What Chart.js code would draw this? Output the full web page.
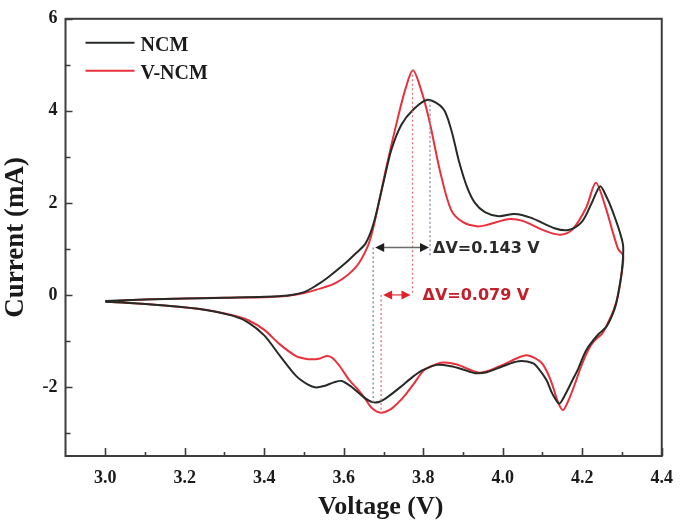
<!DOCTYPE html>
<html>
<head>
<meta charset="utf-8">
<script src="https://cdn.jsdelivr.net/npm/chart.js@4.4.1/dist/chart.umd.min.js"></script>
<style>
  html, body { margin: 0; padding: 0; background: #ffffff; }
  #wrap { width: 685px; height: 525px; }
</style>
</head>
<body>
<div id="wrap"><canvas id="c" width="685" height="525"></canvas></div>
<script>
// ---------- data ----------
const voltageTickLabels = [3.0, 3.2, 3.4, 3.6, 3.8, 4.0, 4.2, 4.4];
const currentTickLabels = [-2, 0, 2, 4, 6];
const seriesNames = ["NCM", "V-NCM"];
const axisTitles = ["Voltage (V)", "Current (mA)"];

const ncmVoltage = [
  3.00, 3.10, 3.20, 3.30, 3.40, 3.46, 3.50, 3.53, 3.56, 3.60, 3.63, 3.655, 3.675, 3.70, 3.72, 3.745,
  3.774, 3.811, 3.85, 3.87, 3.89, 3.91, 3.93, 3.955, 3.99, 4.03, 4.07, 4.13, 4.165, 4.20, 4.225, 4.245,
  4.26, 4.275, 4.295, 4.303, 4.300, 4.292,
  4.285, 4.275, 4.26, 4.24, 4.21, 4.19, 4.175, 4.155, 4.142, 4.125, 4.11, 4.09, 4.075, 4.04, 4.00,
  3.96, 3.93, 3.90, 3.87, 3.835, 3.80, 3.775, 3.74, 3.71, 3.69, 3.672, 3.65, 3.62, 3.595, 3.575,
  3.55, 3.53, 3.51, 3.48, 3.44, 3.40, 3.36, 3.32, 3.25, 3.15, 3.05, 3.00
];
const ncmCurrent = [
  -0.13, -0.10, -0.08, -0.06, -0.04, -0.01, 0.06, 0.20, 0.38, 0.66, 0.90, 1.12, 1.55, 2.45, 3.16, 3.70,
  4.02, 4.24, 4.05, 3.60, 2.90, 2.35, 2.00, 1.80, 1.71, 1.76, 1.68, 1.45, 1.41, 1.60, 2.02, 2.36,
  2.15, 1.85, 1.35, 1.05, 0.55, 0.10,
  -0.20, -0.45, -0.70, -0.86, -1.20, -1.60, -1.86, -2.20, -2.36, -2.15, -1.85, -1.60, -1.48, -1.44, -1.55,
  -1.68, -1.70, -1.62, -1.55, -1.52, -1.63, -1.77, -2.02, -2.22, -2.32, -2.33, -2.22, -2.00, -1.87, -1.90,
  -1.98, -2.01, -1.95, -1.76, -1.33, -0.88, -0.60, -0.45, -0.32, -0.23, -0.17, -0.15
];

const vncmVoltage = [
  3.00, 3.10, 3.20, 3.30, 3.40, 3.46, 3.50, 3.53, 3.58, 3.63, 3.66, 3.676, 3.708, 3.737, 3.756, 3.774,
  3.793, 3.815, 3.842, 3.87, 3.90, 3.935, 3.96, 4.00, 4.02, 4.05, 4.11, 4.145, 4.175, 4.21, 4.234,
  4.257, 4.29, 4.303, 4.298, 4.29,
  4.28, 4.265, 4.25, 4.23, 4.215, 4.195, 4.183, 4.165, 4.152, 4.14, 4.12, 4.10, 4.08, 4.06, 4.04,
  4.00, 3.96, 3.94, 3.91, 3.885, 3.85, 3.82, 3.80, 3.778, 3.755, 3.737, 3.715, 3.693, 3.67, 3.655,
  3.635, 3.613, 3.59, 3.57, 3.555, 3.54, 3.52, 3.50, 3.48, 3.44, 3.40, 3.36, 3.32, 3.25, 3.15, 3.05, 3.00
];
const vncmCurrent = [
  -0.14, -0.10, -0.08, -0.06, -0.05, -0.02, 0.04, 0.11, 0.26, 0.60, 1.05, 1.52, 2.81, 3.88, 4.50, 4.88,
  4.50, 3.80, 2.70, 1.85, 1.58, 1.49, 1.52, 1.62, 1.65, 1.61, 1.38, 1.31, 1.42, 1.90, 2.44,
  1.95, 1.00, 0.86, 0.40, 0.00,
  -0.30, -0.60, -0.84, -1.00, -1.20, -1.60, -1.90, -2.30, -2.50, -2.35, -1.84, -1.50, -1.37, -1.31, -1.36,
  -1.52, -1.66, -1.69, -1.60, -1.51, -1.47, -1.55, -1.65, -1.91, -2.17, -2.34, -2.50, -2.56, -2.45, -2.27,
  -2.05, -1.84, -1.55, -1.36, -1.33, -1.38, -1.40, -1.38, -1.33, -1.08, -0.76, -0.55, -0.44, -0.32, -0.23, -0.17, -0.15
];

// peak-separation annotations: [reduction peak V, oxidation peak V]
const ncmPeakVoltages = [3.674, 3.817];
const ncmPeakCurrents = [-2.33, 4.23];
const vncmPeakVoltages = [3.694, 3.773];
const vncmPeakCurrents = [-2.56, 4.88];
const deltaLabels = ["\u0394V=0.143 V", "\u0394V=0.079 V"];
const arrowCurrents = [1.03, 0.0];

// ---------- styling ----------
const C_BLACK = "#262b26";
const C_RED = "#e8313c";
const FRAME = "#3c3c3c";
const SERIF = "'Liberation Serif', 'Times New Roman', serif";

function toPoints(xs, ys) { return xs.map((x, i) => ({ x: x, y: ys[i] })); }

function arrowHead(ctx, x, y, dir, color) {
  const L = 9, W = 4.5;
  ctx.fillStyle = color;
  ctx.beginPath();
  ctx.moveTo(x, y);
  ctx.lineTo(x - dir * L, y - W);
  ctx.lineTo(x - dir * L, y + W);
  ctx.closePath();
  ctx.fill();
}

const decorPlugin = {
  id: 'decor',
  afterDatasetsDraw(chart) {
    const ctx = chart.ctx;
    const xs = chart.scales.x, ys = chart.scales.y;
    const X = v => xs.getPixelForValue(v), Y = v => ys.getPixelForValue(v);
    const ca = chart.chartArea;
    ctx.save();

    // dotted guide lines
    ctx.lineWidth = 1.3;
    ctx.setLineDash([2, 2.5]);
    ctx.strokeStyle = "#7d8a9a";
    ctx.beginPath();
    ctx.moveTo(X(ncmPeakVoltages[0]), Y(arrowCurrents[0]));
    ctx.lineTo(X(ncmPeakVoltages[0]), Y(ncmPeakCurrents[0]));
    ctx.moveTo(X(ncmPeakVoltages[1]), Y(ncmPeakCurrents[1]));
    ctx.lineTo(X(ncmPeakVoltages[1]), Y(arrowCurrents[0]) + 8);
    ctx.stroke();
    ctx.strokeStyle = "#e0707a";
    ctx.beginPath();
    ctx.moveTo(X(vncmPeakVoltages[0]), Y(arrowCurrents[1]));
    ctx.lineTo(X(vncmPeakVoltages[0]), Y(vncmPeakCurrents[0]));
    ctx.moveTo(X(vncmPeakVoltages[1]), Y(vncmPeakCurrents[1]));
    ctx.lineTo(X(vncmPeakVoltages[1]), Y(arrowCurrents[1]));
    ctx.stroke();
    ctx.setLineDash([]);

    // arrows
    const a0 = X(ncmPeakVoltages[0]) + 2, a1 = X(ncmPeakVoltages[1]) - 1, ay = Y(arrowCurrents[0]);
    ctx.strokeStyle = "#6a6a6a"; ctx.lineWidth = 1.5;
    ctx.beginPath(); ctx.moveTo(a0 + 5, ay); ctx.lineTo(a1 - 5, ay); ctx.stroke();
    arrowHead(ctx, a0, ay, -1, "#1e1e1e");
    arrowHead(ctx, a1, ay, 1, "#1e1e1e");
    const b0 = X(vncmPeakVoltages[0]) + 2, b1 = X(vncmPeakVoltages[1]) - 2, by = Y(arrowCurrents[1]);
    ctx.strokeStyle = "#e85a62";
    ctx.beginPath(); ctx.moveTo(b0 + 5, by); ctx.lineTo(b1 - 5, by); ctx.stroke();
    arrowHead(ctx, b0, by, -1, "#e0202c");
    arrowHead(ctx, b1, by, 1, "#e0202c");

    // delta labels
    ctx.font = "bold 16px 'DejaVu Sans', 'Open Sans', sans-serif";
    ctx.textBaseline = "middle";
    ctx.textAlign = "left";
    ctx.fillStyle = "#2a2a2a";
    ctx.fillText(deltaLabels[0], a1 + 4, ay + 1);
    ctx.fillStyle = "#c4202c";
    ctx.fillText(deltaLabels[1], b1 + 12, by + 1);

    // frame
    ctx.strokeStyle = FRAME; ctx.lineWidth = 2;
    ctx.strokeRect(ca.left, ca.top, ca.right - ca.left, ca.bottom - ca.top);

    // inward ticks
    ctx.lineWidth = 1.6;
    ctx.beginPath();
    for (let k = 0; k <= 14; k++) {
      const v = 3.0 + k * 0.1;
      const px = Math.round(X(v)) + 0.5;
      const len = (k % 2 === 0) ? 8 : 4;
      ctx.moveTo(px, ca.bottom); ctx.lineTo(px, ca.bottom - len);
    }
    for (let v = -3; v <= 6; v++) {
      const py = Math.round(Y(v)) + 0.5;
      const len = (v % 2 === 0) ? 7 : 5;
      ctx.moveTo(ca.left, py); ctx.lineTo(ca.left + len, py);
    }
    ctx.stroke();

    // legend
    const lx = ca.left + 20, ly = [ca.top + 24, ca.top + 52];
    chart.data.datasets.forEach((ds, i) => {
      ctx.strokeStyle = ds.borderColor; ctx.lineWidth = 2;
      ctx.beginPath(); ctx.moveTo(lx, ly[i]); ctx.lineTo(lx + 49, ly[i]); ctx.stroke();
      ctx.fillStyle = "#1a1a1a";
      ctx.font = "bold 20px " + SERIF;
      ctx.textBaseline = "middle";
      ctx.fillText(ds.label, lx + 55, ly[i] + 3);
    });

    // x-axis title (sits slightly right of centre in the reference)
    ctx.font = "bold 26px " + SERIF;
    ctx.fillStyle = "#1a1a1a";
    ctx.textAlign = "center";
    ctx.textBaseline = "middle";
    ctx.fillText(axisTitles[0], (ca.left + ca.right) / 2 + 17, 507);
    ctx.restore();
  }
};

new Chart(document.getElementById('c'), {
  type: 'scatter',
  data: {
    datasets: [
      { label: seriesNames[0], data: toPoints(ncmVoltage, ncmCurrent), showLine: true,
        borderColor: C_BLACK, borderWidth: 2, pointRadius: 0, tension: 0.3, fill: false },
      { label: seriesNames[1], data: toPoints(vncmVoltage, vncmCurrent), showLine: true,
        borderColor: C_RED, borderWidth: 2, pointRadius: 0, tension: 0.3, fill: false }
    ]
  },
  options: {
    responsive: false,
    animation: false,
    devicePixelRatio: 1,
    layout: { padding: { top: 12, right: 13, left: 0, bottom: 0 } },
    plugins: { legend: { display: false }, tooltip: { enabled: false } },
    scales: {
      x: {
        type: 'linear', min: 2.9, max: 4.4,
        afterBuildTicks: s => { s.ticks = voltageTickLabels.map(v => ({ value: v })); },
        afterFit: s => { s.height = 69; },
        grid: { display: false, drawTicks: false },
        border: { display: false },
        ticks: { autoSkip: false, maxRotation: 0, padding: 12, color: "#1a1a1a",
                 font: { family: SERIF, size: 18, weight: 'bold' },
                 callback: v => Number(v).toFixed(1) },
        title: { display: false, text: axisTitles[0] }
      },
      y: {
        type: 'linear', min: -3.5, max: 6,
        afterBuildTicks: s => { s.ticks = currentTickLabels.map(v => ({ value: v })); },
        afterFit: s => { s.width = 65.5; },
        grid: { display: false, drawTicks: false },
        border: { display: false },
        ticks: { autoSkip: false, padding: 8, color: "#1a1a1a",
                 font: { family: SERIF, size: 18, weight: 'bold' },
                 callback: v => String(v) },
        title: { display: true, text: axisTitles[1], color: "#1a1a1a", padding: { top: 0, bottom: 0 },
                 font: { family: SERIF, size: 27, weight: 'bold' } }
      }
    }
  },
  plugins: [decorPlugin]
});
</script>
</body>
</html>
